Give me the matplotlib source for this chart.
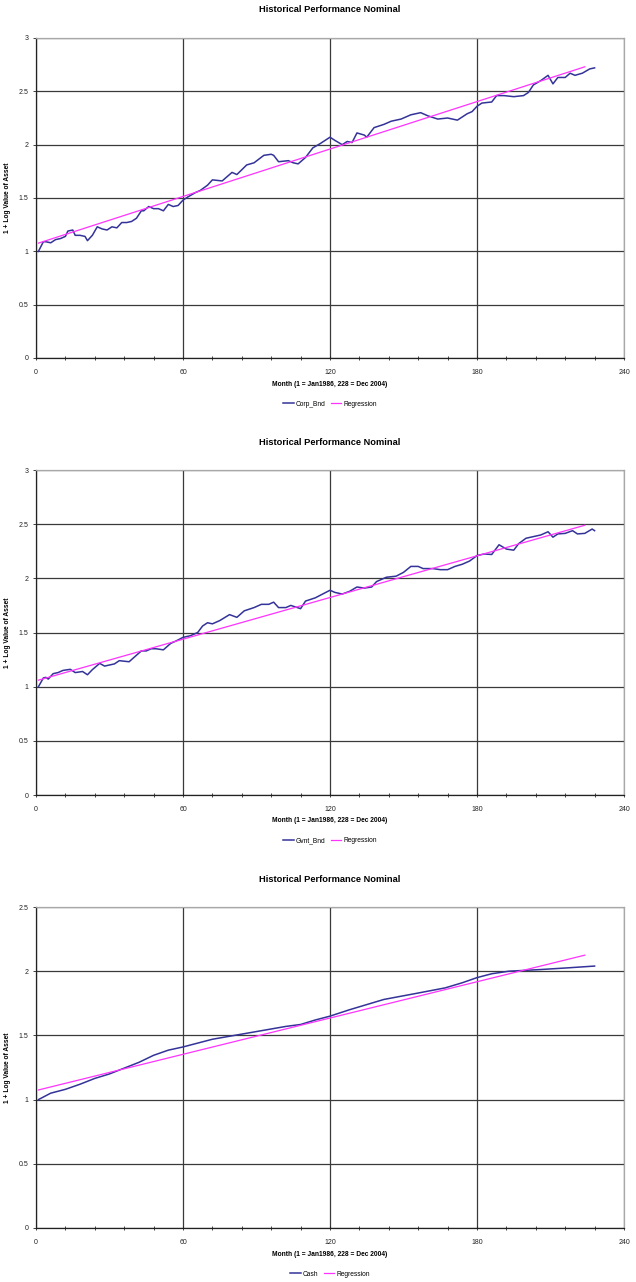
import numpy as np
import matplotlib
matplotlib.use("Agg")
import matplotlib.pyplot as plt
from matplotlib.ticker import MultipleLocator, FuncFormatter

plt.rcParams['font.family'] = ['Liberation Sans', 'DejaVu Sans']

# ---- data (month, 1 + log value) ----
corp_month = [1, 3, 4, 6, 8, 10, 12, 13, 15, 16, 18, 20, 21, 23, 25, 27, 29, 31, 33, 35,
              37, 39, 41, 43, 44, 46, 48, 50, 52, 54, 56, 58, 60, 62, 65, 67, 70, 72, 76, 80,
              82, 86, 89, 93, 96, 97, 99, 103, 105, 107, 110, 113, 116, 120, 122, 125, 127, 129,
              131, 134, 135, 138, 142, 145, 149, 153, 157, 160, 164, 168, 172, 176, 178, 180,
              182, 186, 188, 191, 195, 199, 201, 203, 206, 209, 211, 213, 216, 218, 220, 223,
              226, 228]
corp_value = [1.00, 1.09, 1.09, 1.08, 1.11, 1.12, 1.14, 1.19, 1.20, 1.15, 1.15, 1.14, 1.10,
              1.15, 1.23, 1.21, 1.20, 1.23, 1.22, 1.27, 1.27, 1.28, 1.31, 1.38, 1.38, 1.42,
              1.40, 1.40, 1.38, 1.44, 1.42, 1.43, 1.48, 1.51, 1.55, 1.57, 1.62, 1.67, 1.66,
              1.74, 1.72, 1.81, 1.83, 1.90, 1.91, 1.90, 1.84, 1.85, 1.83, 1.82, 1.88, 1.97,
              2.01, 2.07, 2.04, 2.00, 2.03, 2.02, 2.11, 2.09, 2.07, 2.16, 2.19, 2.22, 2.24,
              2.28, 2.30, 2.27, 2.24, 2.25, 2.23, 2.29, 2.31, 2.36, 2.39, 2.40, 2.46, 2.46,
              2.45, 2.46, 2.49, 2.56, 2.60, 2.65, 2.57, 2.63, 2.63, 2.67, 2.65, 2.67, 2.71, 2.72]

gvnt_month = [1, 3, 4, 5, 7, 9, 11, 14, 16, 19, 21, 23, 26, 28, 30, 32, 34, 38, 40, 43, 45,
              47, 49, 52, 55, 57, 60, 63, 66, 68, 70, 72, 75, 79, 82, 85, 89, 92, 95, 97, 99,
              102, 104, 108, 110, 114, 117, 120, 122, 125, 128, 131, 134, 137, 139, 143, 147,
              150, 153, 156, 158, 162, 165, 168, 171, 174, 177, 180, 183, 186, 189, 192, 195,
              197, 200, 204, 206, 209, 211, 213, 216, 219, 221, 224, 227, 228]
gvnt_value = [1.00, 1.08, 1.086, 1.07, 1.12, 1.13, 1.15, 1.16, 1.13, 1.14, 1.11, 1.157, 1.215,
              1.19, 1.20, 1.21, 1.24, 1.23, 1.27, 1.33, 1.33, 1.35, 1.35, 1.34, 1.40, 1.42,
              1.455, 1.47, 1.50, 1.56, 1.59, 1.58, 1.61, 1.665, 1.64, 1.70, 1.73, 1.76, 1.76,
              1.78, 1.73, 1.73, 1.75, 1.72, 1.79, 1.82, 1.855, 1.89, 1.87, 1.855, 1.88, 1.92,
              1.91, 1.92, 1.97, 2.01, 2.02, 2.055, 2.11, 2.11, 2.09, 2.09, 2.08, 2.08, 2.11,
              2.13, 2.16, 2.21, 2.225, 2.22, 2.31, 2.27, 2.26, 2.32, 2.37, 2.39, 2.40, 2.43,
              2.38, 2.41, 2.415, 2.44, 2.41, 2.415, 2.455, 2.44]

cash_month = [1, 6, 12, 18, 24, 30, 36, 42, 48, 54, 60, 66, 72, 78, 84, 90, 96, 102, 108,
              114, 120, 128, 142, 156, 167, 174, 180, 186, 193, 198, 206, 217, 228]
cash_value = [1.00, 1.05, 1.08, 1.12, 1.165, 1.20, 1.245, 1.29, 1.345, 1.385, 1.41, 1.44,
              1.47, 1.49, 1.51, 1.53, 1.55, 1.57, 1.585, 1.62, 1.65, 1.70, 1.78, 1.83, 1.87,
              1.91, 1.95, 1.98, 2.00, 2.005, 2.013, 2.026, 2.04]

# regression line end points (month, value)
reg_month = [1, 224]
corp_reg = [1.077, 2.73]
gvnt_reg = [1.06, 2.49]
cash_reg = [1.075, 2.125]

series_names = ['Corp_Bnd', 'Gvnt_Bnd', 'Cash']
y_tops = [3.0, 3.0, 2.5]
title = 'Historical Performance Nominal'
xlab = 'Month (1 = Jan1986, 228 = Dec 2004)'
ylab = '1 + Log Value of Asset'

panels = [
    (corp_month, corp_value, corp_reg),
    (gvnt_month, gvnt_value, gvnt_reg),
    (cash_month, cash_value, cash_reg),
]

W, H = 636, 1282
fig = plt.figure(figsize=(W / 100, H / 100), dpi=100)

# axes boxes in pixels: (top, bottom)
boxes = [(38, 358), (470, 795), (907, 1228)]
left_px, right_px = 36, 624

for (top, bot), (mx, vy, reg), name, ytop in zip(boxes, panels, series_names, y_tops):
    hpx = bot - top
    wpx = right_px - left_px
    ax = fig.add_axes([left_px / W, 1 - bot / H, wpx / W, hpx / H])

    ax.plot(mx, vy, color='#333399', lw=1.1, label=name, zorder=3)
    ax.plot(reg_month, reg, color='#ff33ff', lw=0.9, label='Regression', zorder=4)

    ax.set_xlim(0, 240)
    ax.set_ylim(0, ytop)
    ax.xaxis.set_major_locator(MultipleLocator(60))
    ax.xaxis.set_minor_locator(MultipleLocator(12))
    ax.yaxis.set_major_locator(MultipleLocator(0.5))
    ax.yaxis.set_major_formatter(FuncFormatter(lambda v, p: '%g' % v))

    ax.grid(True, which='major', color='#3a3a3a', lw=0.9, zorder=1)
    ax.set_axisbelow(True)

    for s in ['top', 'right']:
        ax.spines[s].set_color('#a8a8a8')
        ax.spines[s].set_linewidth(0.9)
    for s in ['left', 'bottom']:
        ax.spines[s].set_color('#222222')
        ax.spines[s].set_linewidth(0.9)

    ax.tick_params(axis='x', which='both', direction='inout', length=3.5, width=0.6,
                   labelsize=5, pad=6, colors='#222222')
    ax.tick_params(axis='y', which='major', direction='out', length=2.5, width=0.6,
                   labelsize=5, pad=3, colors='#222222')

    ax.set_title(title, fontsize=6.7, fontweight='bold', y=1 + 28 / hpx, pad=0,
                 va='center')
    ax.set_xlabel(xlab, fontsize=4.8, fontweight='bold')
    ax.xaxis.set_label_coords(0.5, -26 / hpx)
    ax.xaxis.label.set_va('center')
    ax.set_ylabel(ylab, fontsize=4.8, fontweight='bold')
    ax.yaxis.set_label_coords(-28 / wpx, 0.5)
    ax.yaxis.label.set_va('center')

    ax.legend(loc='center', bbox_to_anchor=(0.5, -46 / hpx), ncol=2, frameon=False,
              fontsize=4.8, handlelength=1.6, handletextpad=0.3, columnspacing=0.8)

fig.savefig('out.png', dpi=100)
